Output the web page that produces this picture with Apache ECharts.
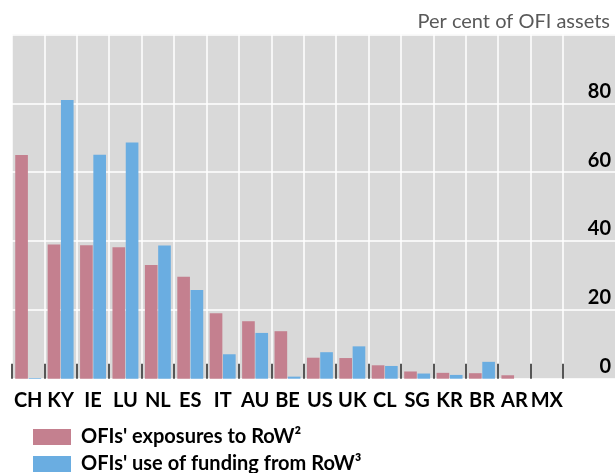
<!DOCTYPE html>
<html><head><meta charset="utf-8">
<script src="https://cdn.jsdelivr.net/npm/echarts@6/dist/echarts.min.js"></script>
<style>html,body{margin:0;padding:0;background:#fff}#c{width:615px;height:473px}</style>
</head><body><div id="c"></div>
<script>
var categories = ['CH','KY','IE','LU','NL','ES','IT','AU','BE','US','UK','CL','SG','KR','BR','AR','MX'];
var exposures = [65.0, 39.0, 38.8, 38.2, 33.0, 29.6, 19.0, 16.7, 13.8, 6.1, 6.0, 3.9, 2.1, 1.7, 1.6, 1.0, 0];
var funding   = [0.2, 81.0, 65.1, 68.6, 38.7, 25.8, 7.1, 13.3, 0.6, 7.7, 9.4, 3.7, 1.5, 1.1, 4.9, 0, 0];
var yTicks = [0, 20, 40, 60, 80];
var seriesNames = ["OFIs' exposures to RoW", "OFIs' use of funding from RoW"];
var seriesSups = ['\u00B2', '\u00B3'];
var unitText = 'Per cent of OFI assets';

var FONT = 'Lato, "Open Sans", sans-serif';
var chart = echarts.init(document.getElementById('c'), null, {renderer: 'canvas'});
function legendFor(i, top) {
  return {
    orient: 'vertical', left: 33, top: top, itemWidth: 38, itemHeight: 16, padding: 0,
    icon: 'rect',
    data: [seriesNames[i]],
    formatter: function (name) { return name + seriesSups[i]; },
    textStyle: {fontFamily: FONT, fontSize: 20, fontWeight: 'bold', color: '#000', padding: [0, 0, 0, 5]}
  };
}
var option = {
  animation: false,
  title: {
    text: unitText, right: 0, top: 7,
    textStyle: {fontFamily: FONT, fontSize: 20, fontWeight: 'normal', color: '#595959'}
  },
  legend: [legendFor(0, 427), legendFor(1, 454)],
  grid: [
    {left: 12, right: 0, top: 34.5, bottom: 94.3, show: true, backgroundColor: '#d9d9d9', borderWidth: 0},
    {left: 12, width: 551, top: 34.5, bottom: 94.3}
  ],
  xAxis: [
    {type: 'value', gridIndex: 0, min: 0, max: 1, show: false},
    {
      type: 'category', gridIndex: 1, data: categories,
      axisLine: {show: false},
      axisTick: {show: true, inside: true, length: 15, lineStyle: {color: '#222', width: 1.5}},
      splitLine: {show: true, lineStyle: {color: '#ffffff', width: 1.5}},
      axisLabel: {fontFamily: FONT, fontSize: 20, fontWeight: 'bold', color: '#000', margin: 12, interval: 0}
    }
  ],
  yAxis: [
    {
      type: 'value', gridIndex: 0, min: 0, max: 100, interval: 20, position: 'right',
      axisLine: {show: false}, axisTick: {show: false},
      splitLine: {show: true, lineStyle: {color: '#ffffff', width: 1.5}},
      axisLabel: {
        inside: true, margin: 4, verticalAlign: 'bottom', padding: [0, 0, 2, 0],
        fontFamily: FONT, fontSize: 20, fontWeight: 'bold', color: '#000',
        formatter: function (v) { return yTicks.indexOf(v) >= 0 ? String(v) : ''; }
      }
    },
    {type: 'value', gridIndex: 1, min: 0, max: 100, interval: 20, show: false}
  ],
  series: [
    {
      name: seriesNames[0], type: 'bar', xAxisIndex: 1, yAxisIndex: 1, data: exposures,
      barCategoryGap: '20%', barGap: '5%',
      itemStyle: {color: '#c4808f'}
    },
    {
      name: seriesNames[1], type: 'bar', xAxisIndex: 1, yAxisIndex: 1, data: funding,
      barCategoryGap: '20%', barGap: '5%',
      itemStyle: {color: '#6aade1'}
    }
  ]
};
chart.setOption(option);
</script></body></html>
